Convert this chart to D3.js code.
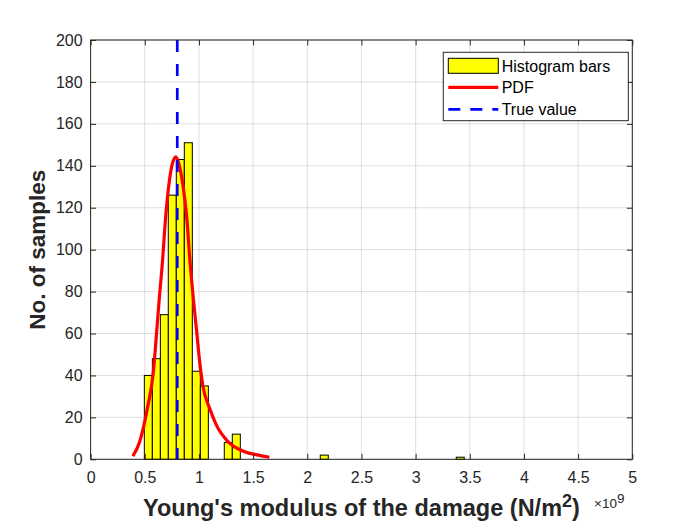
<!DOCTYPE html>
<html>
<head>
<meta charset="utf-8">
<script src="https://cdn.jsdelivr.net/npm/d3@7"></script>
<style>
    html, body { margin: 0; padding: 0; background: #fff; }
    svg { display: block; font-family: Arial, "Liberation Sans", Helvetica, sans-serif; }
</style>
</head>
<body>
<div id="chart"></div>
<script>
// histogram bins (left edge, x1e9 N/m^2) and counts
var binLeft = [0.496, 0.570, 0.644, 0.717, 0.791, 0.865, 0.939, 1.013, 1.234, 1.308, 2.120, 3.375];
var binCounts = [40, 48, 69, 126, 143, 151, 42, 35, 8, 12, 2, 1];
var binWidth = 0.0738;

// fitted PDF curve
var pdfX = [0.39, 0.453, 0.524, 0.58, 0.610, 0.634, 0.660, 0.693, 0.724, 0.755, 0.788, 0.820,
            0.850, 0.887, 0.915, 0.948, 0.979, 1.010, 1.035, 1.099, 1.160, 1.268, 1.422, 1.55, 1.65];
var pdfY = [1.5, 8.4, 24.3, 42, 60.9, 76.8, 92, 115.7, 131.6, 141, 144.3, 140,
            131.6, 115.7, 96, 76.8, 60.9, 45, 35.4, 24.3, 16.4, 8.4, 3.6, 2, 1.0];

var trueValue = 0.8;

var xTicks = [0, 0.5, 1, 1.5, 2, 2.5, 3, 3.5, 4, 4.5, 5];
var yTicks = [0, 20, 40, 60, 80, 100, 120, 140, 160, 180, 200];

var legendNames = ["Histogram bars", "PDF", "True value"];

var W = 699, H = 525;
var pLeft = 90.6, pRight = 632.3, pTop = 40, pBottom = 459.3;
var axisColor = '#262626';
var tickLen = 5.4;

var svg = d3.select('#chart')
        .append('svg')
        .attr('xmlns', 'http://www.w3.org/2000/svg')
        .attr('width', W)
        .attr('height', H);

var x = d3.scaleLinear().domain([0, 5]).range([pLeft, pRight]);
var y = d3.scaleLinear().domain([0, 200]).range([pBottom, pTop]);

// grid
var grid = svg.append('g').attr('stroke', axisColor).attr('stroke-opacity', 0.15).attr('stroke-width', 1);
grid.selectAll('.gx').data(xTicks).enter().append('line')
        .attr('x1', function (d) { return x(d); })
        .attr('x2', function (d) { return x(d); })
        .attr('y1', pTop).attr('y2', pBottom);
grid.selectAll('.gy').data(yTicks).enter().append('line')
        .attr('y1', function (d) { return y(d); })
        .attr('y2', function (d) { return y(d); })
        .attr('x1', pLeft).attr('x2', pRight);

// bars
svg.append('g').selectAll('rect')
        .data(binLeft)
        .enter().append('rect')
        .attr('x', function (d) { return x(d); })
        .attr('width', function (d) { return x(d + binWidth) - x(d); })
        .attr('y', function (d, i) { return y(binCounts[i]); })
        .attr('height', function (d, i) { return y(0) - y(binCounts[i]); })
        .attr('fill', '#ffff00')
        .attr('stroke', '#000')
        .attr('stroke-width', 1);

// pdf
var line = d3.line()
        .x(function (d) { return x(d); })
        .y(function (d, i) { return y(pdfY[i]); })
        .curve(d3.curveMonotoneX);
svg.append('path')
        .attr('d', line(pdfX))
        .attr('fill', 'none')
        .attr('stroke', '#ff0000')
        .attr('stroke-width', 3.2);

// true value
svg.append('line')
        .attr('x1', x(trueValue)).attr('x2', x(trueValue))
        .attr('y1', y(200)).attr('y2', y(0))
        .attr('stroke', '#0000ff')
        .attr('stroke-width', 2.7)
        .attr('stroke-dasharray', '12,12');

// axes
function styleAxis(g) {
    g.select('.domain').remove();
    g.selectAll('.tick line').attr('stroke', axisColor);
    g.selectAll('.tick text').attr('fill', axisColor).style('font-size', '16px');
}

svg.append('g')
        .attr('transform', 'translate(0,' + pBottom + ')')
        .call(d3.axisBottom(x).tickValues(xTicks).tickFormat(d3.format('~g'))
                .tickSizeInner(-tickLen).tickSizeOuter(0).tickPadding(12))
        .call(styleAxis);
svg.append('g')
        .attr('transform', 'translate(0,' + pTop + ')')
        .call(d3.axisTop(x).tickValues(xTicks).tickFormat('')
                .tickSizeInner(-tickLen).tickSizeOuter(0))
        .call(styleAxis);
svg.append('g')
        .attr('transform', 'translate(' + pLeft + ',0)')
        .call(d3.axisLeft(y).tickValues(yTicks)
                .tickSizeInner(-tickLen).tickSizeOuter(0).tickPadding(8))
        .call(styleAxis);
svg.append('g')
        .attr('transform', 'translate(' + pRight + ',0)')
        .call(d3.axisRight(y).tickValues(yTicks).tickFormat('')
                .tickSizeInner(-tickLen).tickSizeOuter(0))
        .call(styleAxis);

svg.append('rect')
        .attr('x', pLeft).attr('y', pTop)
        .attr('width', pRight - pLeft).attr('height', pBottom - pTop)
        .attr('fill', 'none')
        .attr('stroke', axisColor)
        .attr('stroke-width', 1);

// labels
var xl = svg.append('text')
        .attr('x', (pLeft + pRight) / 2)
        .attr('y', 516)
        .attr('text-anchor', 'middle')
        .attr('fill', axisColor)
        .style('font-size', '23.5px')
        .style('font-weight', 'bold');
xl.append('tspan').text("Young's modulus of the damage (N/m");
xl.append('tspan').attr('dy', -9).style('font-size', '18px').text('2');
xl.append('tspan').attr('dy', 9).text(')');

var ex = svg.append('text')
        .attr('x', 594)
        .attr('y', 508.3)
        .attr('fill', axisColor)
        .style('font-size', '13.5px');
ex.append('tspan').text('\u00d710');
ex.append('tspan').attr('dy', -5).text('9');

svg.append('text')
        .attr('transform', 'translate(45,' + ((pTop + pBottom) / 2) + ') rotate(-90)')
        .attr('text-anchor', 'middle')
        .attr('fill', axisColor)
        .style('font-size', '22.5px')
        .style('font-weight', 'bold')
        .text('No. of samples');

// legend
var lg = svg.append('g').attr('transform', 'translate(443.3,52.3)');
lg.append('rect')
        .attr('width', 185).attr('height', 68.4)
        .attr('fill', '#fff')
        .attr('stroke', axisColor)
        .attr('stroke-width', 1);
lg.append('rect')
        .attr('x', 5).attr('y', 6).attr('width', 50).attr('height', 15)
        .attr('fill', '#ffff00').attr('stroke', '#000');
lg.append('line')
        .attr('x1', 5).attr('x2', 55).attr('y1', 35).attr('y2', 35)
        .attr('stroke', '#ff0000').attr('stroke-width', 3.2);
lg.append('line')
        .attr('x1', 5).attr('x2', 55).attr('y1', 57).attr('y2', 57)
        .attr('stroke', '#0000ff').attr('stroke-width', 2.7)
        .attr('stroke-dasharray', '12,10');
lg.selectAll('.lt').data(legendNames).enter().append('text')
        .attr('x', 58.4)
        .attr('y', function (d, i) { return 19.5 + i * 21.7; })
        .attr('fill', '#000')
        .style('font-size', '16px')
        .text(function (d) { return d; });
</script>
</body>
</html>
